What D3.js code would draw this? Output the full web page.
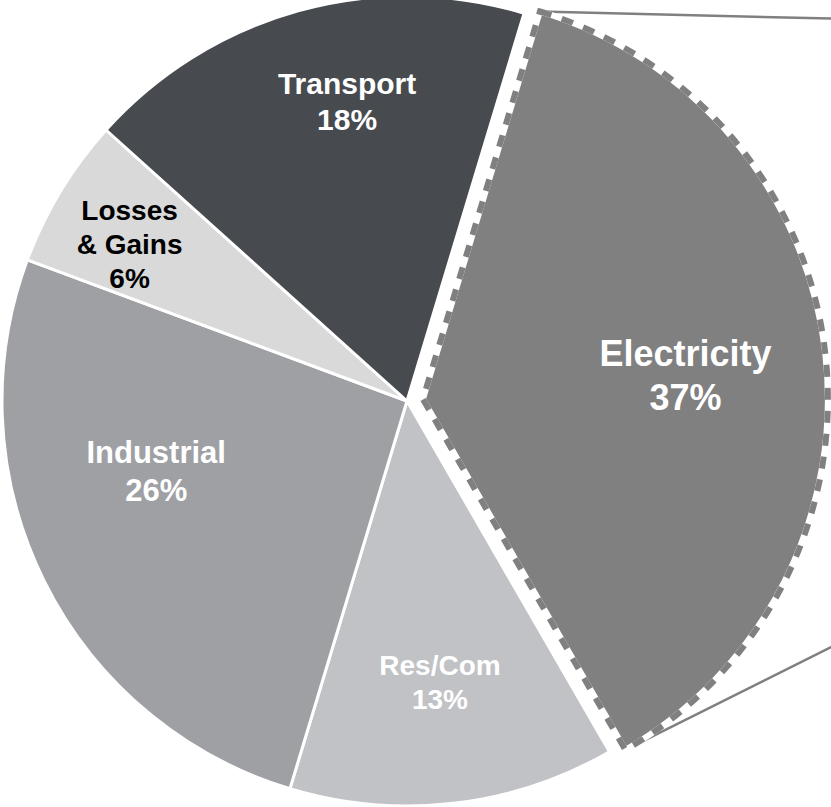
<!DOCTYPE html>
<html>
<head>
<meta charset="utf-8">
<script src="https://cdn.jsdelivr.net/npm/d3@7"></script>
<style>
  html, body { margin: 0; padding: 0; background: #ffffff; overflow: hidden; }
  svg { display: block; }
</style>
</head>
<body>
<svg id="chart" width="831" height="807"></svg>
<script>
// Energy use by sector (share of total, %)
const categories = ["Electricity", "Res/Com", "Industrial", "Losses & Gains", "Transport"];
const shares = [37, 13, 26, 6, 18];
const labelLines = [["Electricity"], ["Res/Com"], ["Industrial"], ["Losses", "& Gains"], ["Transport"]];

// Presentation
const fills = ["#808080", "#c1c2c5", "#9ea0a4", "#d9d9d9", "#474a4f"];
const textFill = ["#ffffff", "#ffffff", "#ffffff", "#000000", "#ffffff"];
const fontSize = [36, 28, 31, 28, 30];
const labelRadiusFrac = [0.651, 0.698, 0.643, 0.787, 0.755];
const labelAngleNudge = [1.4, -0.1, 10.8, -1.7, 4.3]; // degrees
const explodedIndex = 0;

const W = 831, H = 807;
const cx = 407, cy = 401, R = 405;
const explode = 16;
const deg = Math.PI / 180;
const start = 16.8 * deg;

const svg = d3.select("#chart");

const pie = d3.pie()
  .sort(null)
  .value(d => d.value)
  .startAngle(start)
  .endAngle(start + 2 * Math.PI);

const data = categories.map((c, i) => ({ name: c, value: shares[i], i }));
const arcs = pie(data);

const arc = d3.arc().innerRadius(0).outerRadius(R);

function offsetOf(a) {
  if (a.data.i !== explodedIndex) return [0, 0];
  const mid = (a.startAngle + a.endAngle) / 2;
  return [explode * Math.sin(mid), -explode * Math.cos(mid)];
}

const g = svg.append("g").attr("transform", `translate(${cx},${cy})`);

// Connector lines from the highlighted slice toward the breakdown chart on the right
const hl = arcs[explodedIndex];
const [ox, oy] = offsetOf(hl);
const topCorner = [ox + R * Math.sin(hl.startAngle), oy - R * Math.cos(hl.startAngle)];
const botCorner = [ox + R * Math.sin(hl.endAngle), oy - R * Math.cos(hl.endAngle)];
const detailX = 1100 - cx;            // left edge of the detail chart (off to the right)
const topSlope = 0.0246, botSlope = -0.5;
const connectors = [
  [topCorner, [detailX, topCorner[1] + (detailX - topCorner[0]) * topSlope]],
  [botCorner, [detailX, botCorner[1] + (detailX - botCorner[0]) * botSlope]]
];
g.selectAll("line.connector")
  .data(connectors)
  .join("line")
  .attr("class", "connector")
  .attr("x1", d => d[0][0]).attr("y1", d => d[0][1])
  .attr("x2", d => d[1][0]).attr("y2", d => d[1][1])
  .attr("stroke", "#808080")
  .attr("stroke-width", 2.5);

// Slices
const slices = g.selectAll("g.slice")
  .data(arcs)
  .join("g")
  .attr("class", "slice")
  .attr("transform", d => { const o = offsetOf(d); return `translate(${o[0]},${o[1]})`; });

slices.append("path")
  .attr("d", arc)
  .attr("fill", d => fills[d.data.i])
  .attr("stroke", "#ffffff")
  .attr("stroke-width", d => d.data.i === explodedIndex ? 6 : 3)
  .attr("stroke-linejoin", "miter");

// Dashed outline on the highlighted slice
slices.filter(d => d.data.i === explodedIndex)
  .append("path")
  .attr("d", arc)
  .attr("fill", "none")
  .attr("stroke", fills[explodedIndex])
  .attr("stroke-width", 6)
  .attr("stroke-dasharray", "12,11");

// Labels
slices.each(function (d) {
  const i = d.data.i;
  const mid = (d.startAngle + d.endAngle) / 2 + labelAngleNudge[i] * deg;
  const r = R * labelRadiusFrac[i];
  const lx = r * Math.sin(mid), ly = -r * Math.cos(mid);
  const fs = fontSize[i];
  const lh = fs * 1.22;
  const lines = labelLines[i].concat([d.data.value + "%"]);
  const n = lines.length;
  const t = d3.select(this).append("text")
    .attr("text-anchor", "middle")
    .attr("font-family", "'Liberation Sans', Arial, sans-serif")
    .attr("font-weight", "bold")
    .attr("font-size", fs)
    .attr("fill", textFill[i]);
  lines.forEach((s, k) => {
    t.append("tspan")
      .attr("x", lx)
      .attr("y", ly + (k - (n - 1) / 2) * lh + 0.36 * fs)
      .text(s);
  });
});
</script>
</body>
</html>
